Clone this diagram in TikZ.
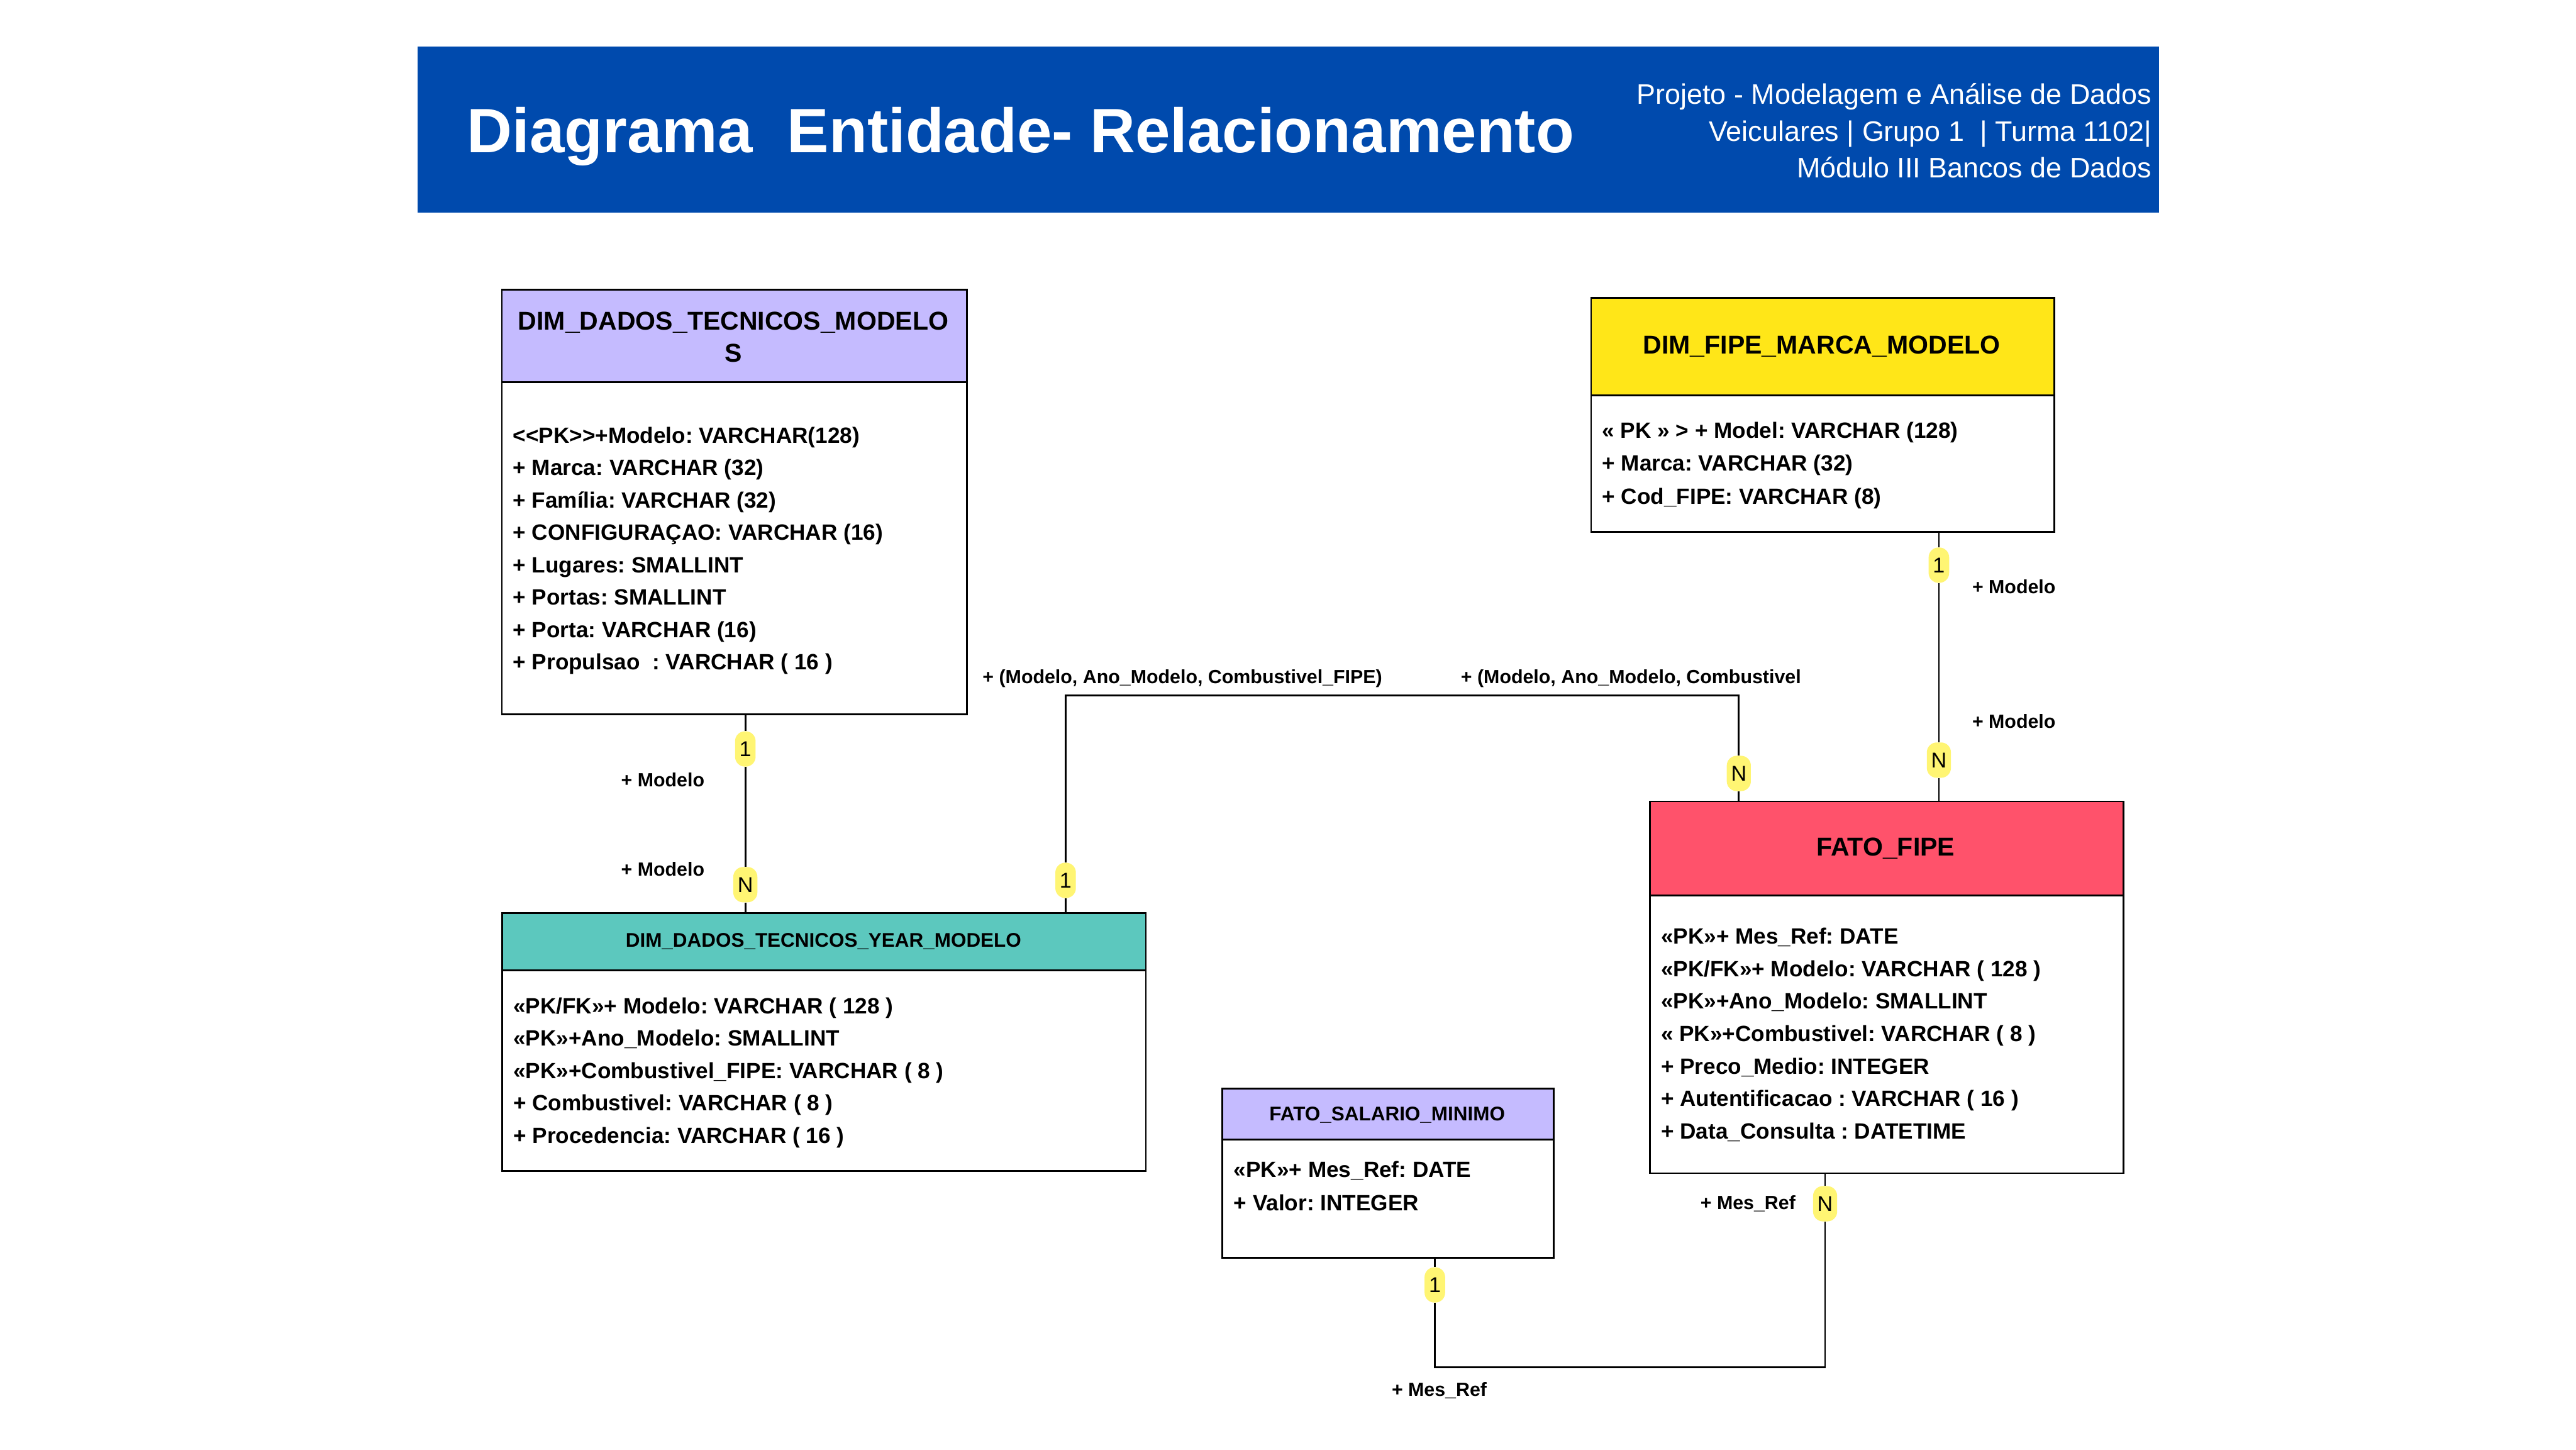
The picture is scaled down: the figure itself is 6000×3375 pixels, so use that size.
\documentclass[tikz,border=0pt]{standalone}
\usepackage{fontspec}
\setmainfont{Liberation Sans}
\usepackage{graphicx}
\definecolor{hblue}{RGB}{0,74,173}
\definecolor{lav}{RGB}{197,187,255}
\definecolor{ylw}{RGB}{255,230,24}
\definecolor{tealh}{RGB}{92,200,190}
\definecolor{redh}{RGB}{255,82,107}
\definecolor{badgey}{RGB}{255,245,115}
\begin{document}
\frenchspacing
\begin{tikzpicture}[x=0.01cm,y=-0.01cm,
  hdr/.style={draw=black, line width=1.14pt, anchor=north west, inner sep=0pt},
  bodybox/.style={draw=black, fill=white, line width=1.14pt, anchor=north west, inner sep=0pt},
  ttl/.style={font=\fontsize{17.1}{21}\selectfont\bfseries, align=center, inner sep=0pt},
  ttls/.style={font=\fontsize{13.1}{16}\selectfont\bfseries, inner sep=0pt},
  attr/.style={font=\fontsize{14.65}{17}\selectfont\bfseries, anchor=base west, inner sep=0pt},
  lbl/.style={font=\fontsize{12.65}{15}\selectfont\bfseries, anchor=west, inner sep=0pt},
  badge/.style={fill=badgey, rounded corners=6.5pt, inner xsep=2.85pt, inner ysep=6.8pt, font=\fontsize{14.2}{16}\selectfont},
  conn/.style={draw=black, line width=1.2pt},
  hsub/.style={font=\fontsize{18.7}{22}\selectfont, text=white, anchor=base east, inner sep=0pt}
]
\fill[white] (0,0) rectangle (6000,3375);
\useasboundingbox (0,0) rectangle (6000,3375);

% ---------- header banner ----------
\node[fill=hblue, anchor=north west, inner sep=0pt, minimum width={4056*0.01cm}, minimum height={388*0.01cm}] (banner) at (972,107) {};
\node[anchor=base west, text=white, font=\fontsize{41.5}{48}\selectfont\bfseries, inner sep=0pt] (title) at (1087,355) {Diagrama\ \ Entidade- Relacionamento};
\node[hsub] (sub1) at (5012,243) {Projeto - Modelagem e Análise de Dados};
\node[hsub] (sub2) at (5012,329) {Veiculares | Grupo 1\ \ | Turma 1102|};
\node[hsub] (sub3) at (5012,414) {Módulo III Bancos de Dados};

% ---------- DIM_DADOS_TECNICOS_MODELOS ----------
\node[bodybox, minimum width={1083*0.01cm}, minimum height={773*0.01cm}] (m1b) at (1167,888) {};
\node[hdr, fill=lav, minimum width={1083*0.01cm}, minimum height={215*0.01cm}] (m1h) at (1167,673) {};
\node[ttl] (m1t) at (1708,785) {DIM\_DADOS\_TECNICOS\_MODELO\\S};
\foreach \t [count=\i from 0] in {{<\kern0pt<PK>\kern0pt>+Modelo: VARCHAR(128)},{+ Marca: VARCHAR (32)},{+ Família: VARCHAR (32)},{+ CONFIGURAÇAO: VARCHAR (16)},{+ Lugares: SMALLINT},{+ Portas: SMALLINT},{+ Porta: VARCHAR (16)},{+ Propulsao\ \ : VARCHAR ( 16 )}}
  \node[attr] (m1a\i) at (1194,1032+75.4*\i) {\t};

% ---------- DIM_FIPE_MARCA_MODELO ----------
\node[bodybox, minimum width={1079*0.01cm}, minimum height={318*0.01cm}] (m2b) at (3704,919) {};
\node[hdr, fill=ylw, minimum width={1079*0.01cm}, minimum height={227*0.01cm}] (m2h) at (3704,692) {};
\node[ttl] (m2t) at (4243,807) {DIM\_FIPE\_MARCA\_MODELO};
\foreach \t [count=\i from 0] in {{« PK » > + Model: VARCHAR (128)},{+ Marca: VARCHAR (32)},{+ Cod\_FIPE: VARCHAR (8)}}
  \node[attr] (m2a\i) at (3731,1020+77*\i) {\t};

% ---------- DIM_DADOS_TECNICOS_YEAR_MODELO ----------
\node[bodybox, minimum width={1499*0.01cm}, minimum height={467*0.01cm}] (y3b) at (1168,2258) {};
\node[hdr, fill=tealh, minimum width={1499*0.01cm}, minimum height={134*0.01cm}] (y3h) at (1168,2124) {};
\node[ttls] (y3t) at (1918,2192) {DIM\_DADOS\_TECNICOS\_YEAR\_MODELO};
\foreach \t [count=\i from 0] in {{«PK/FK»+ Modelo: VARCHAR ( 128 )},{«PK»+Ano\_Modelo: SMALLINT},{«PK»+Combustivel\_FIPE: VARCHAR ( 8 )},{+ Combustivel: VARCHAR ( 8 )},{+ Procedencia: VARCHAR ( 16 )}}
  \node[attr] (y3a\i) at (1195,2360+75.5*\i) {\t};

% ---------- FATO_FIPE ----------
\node[bodybox, minimum width={1103*0.01cm}, minimum height={647*0.01cm}] (ffb) at (3841,2083) {};
\node[hdr, fill=redh, minimum width={1103*0.01cm}, minimum height={219*0.01cm}] (ffh) at (3841,1864) {};
\node[ttl] (fft) at (4392,1975) {FATO\_FIPE};
\foreach \t [count=\i from 0] in {{«PK»+ Mes\_Ref: DATE},{«PK/FK»+ Modelo: VARCHAR ( 128 )},{«PK»+Ano\_Modelo: SMALLINT},{« PK»+Combustivel: VARCHAR ( 8 )},{+ Preco\_Medio: INTEGER},{+ Autentificacao : VARCHAR ( 16 )},{+ Data\_Consulta : DATETIME}}
  \node[attr] (ffa\i) at (3868,2198+75.7*\i) {\t};

% ---------- FATO_SALARIO_MINIMO ----------
\node[bodybox, minimum width={772*0.01cm}, minimum height={275*0.01cm}] (smb) at (2845,2652) {};
\node[hdr, fill=lav, minimum width={772*0.01cm}, minimum height={119*0.01cm}] (smh) at (2845,2533) {};
\node[ttls] (smt) at (3231,2597) {FATO\_SALARIO\_MINIMO};
\foreach \t [count=\i from 0] in {{«PK»+ Mes\_Ref: DATE},{+ Valor: INTEGER}}
  \node[attr] (sma\i) at (2873,2742+77*\i) {\t};

% ---------- connector coordinates ----------
\coordinate (k1) at (1736,0);
\coordinate (c2a) at (2482,1620);
\coordinate (c2b) at (4050,1620);
\coordinate (k3) at (4516,0);
\coordinate (c4a) at (3342,3184);
\coordinate (c4b) at (4251,3184);

% ---------- badges ----------
\node[badge] (b11) at (1736,1744) {1};
\node[badge] (b1n) at (1736,2060) {N};
\node[badge] (b21) at (2482,2050) {1};
\node[badge] (b2n) at (4050,1801) {N};
\node[badge] (b31) at (4516,1316) {1};
\node[badge] (b3n) at (4516,1770) {N};
\node[badge] (b41) at (3342,2992) {1};
\node[badge] (b4n) at (4251,2803) {N};

% ---------- connectors ----------
\draw[conn] (m1b.south -| k1) -- (b11) -- (b1n) -- (y3h.north -| k1);
\draw[conn] (y3h.north -| c2a) -- (b21) -- (c2a) -- (c2b) -- (b2n) -- (ffh.north -| c2b);
\draw[conn] (m2b.south -| k3) -- (b31) -- (b3n) -- (ffh.north -| k3);
\draw[conn] (smb.south -| c4a) -- (b41) -- (c4a) -- (c4b) -- (b4n) -- (ffb.south -| c4b);

% ---------- connector labels ----------
\node[lbl] (l1a) at (1446,1816) {+ Modelo};
\node[lbl] (l1b) at (1446,2024) {+ Modelo};
\node[lbl] (l2a) at (2288,1580) {+ (Modelo, Ano\_Modelo, Combustivel\_FIPE)};
\node[lbl] (l2b) at (3402,1580) {+ (Modelo, Ano\_Modelo, Combustivel};
\node[lbl] (l3a) at (4593,1366) {+ Modelo};
\node[lbl] (l3b) at (4593,1680) {+ Modelo};
\node[lbl] (l4a) at (3960,2803) {+ Mes\_Ref};
\node[lbl] (l4b) at (3241,3238) {+ Mes\_Ref};
\end{tikzpicture}
\end{document}
